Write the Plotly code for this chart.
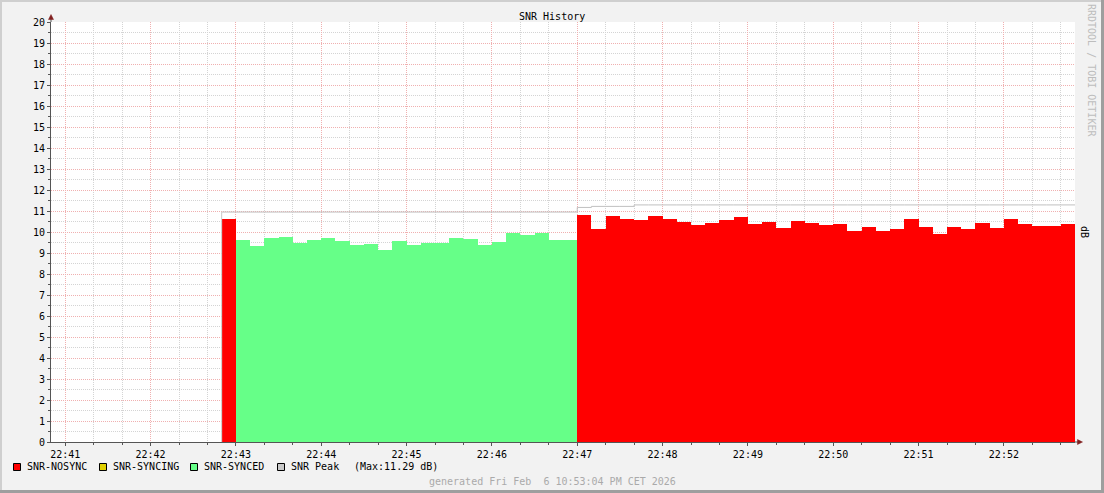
import plotly.graph_objects as go
import pandas as pd

# ---------------- data ----------------
SLOT_START = "2026-02-06 22:42:50"   # first sample slot
STEP_SECONDS = 10
X_START = "2026-02-06 22:40:50"
X_END = "2026-02-06 22:52:50"
TICK0 = "2026-02-06 22:41:00"

snr_nosync = [10.62] + [None] * 24 + [
    10.81, 10.14, 10.76, 10.62, 10.57, 10.76, 10.62, 10.48, 10.33, 10.43,
    10.57, 10.71, 10.38, 10.48, 10.19, 10.52, 10.43, 10.33, 10.38, 10.05,
    10.24, 10.05, 10.14, 10.62, 10.24, 9.90, 10.24, 10.14, 10.43, 10.19,
    10.62, 10.38, 10.29, 10.29, 10.38]
snr_synced = [None] + [
    9.62, 9.35, 9.71, 9.76, 9.48, 9.62, 9.71, 9.57, 9.38, 9.43, 9.14, 9.57,
    9.38, 9.48, 9.48, 9.71, 9.67, 9.38, 9.52, 9.95, 9.86, 9.95, 9.62, 9.62] + [None] * 35
snr_syncing = [None] * 60
snr_peak = [10.95] * 25 + [11.17] + [11.22] * 3 + [11.29] * 31
peak_max_label = "(Max:11.29 dB)"

legend_names = ["SNR-NOSYNC", "SNR-SYNCING", "SNR-SYNCED", "SNR Peak"]
legend_colors = ["#ff0000", "#e0d000", "#66ff88", "#c8c8c8"]

# ---------------- geometry helpers ----------------
W, H = 1104, 493
PL, PR, PT, PB = 51, 1075, 22, 442
PW, PH = PR - PL, PB - PT


def fx(px):
    return (px - PL) / PW


def fy(py):
    return (PB - py) / PH


FONT = "DejaVu Sans Mono"
slots = pd.date_range(SLOT_START, periods=len(snr_peak), freq=f"{STEP_SECONDS}s")
step_ms = STEP_SECONDS * 1000

fig = go.Figure()
fig.add_trace(go.Bar(x=slots, y=snr_nosync, name=legend_names[0], marker_color=legend_colors[0],
                     marker_line_width=0, width=step_ms, offset=0, showlegend=False))
fig.add_trace(go.Bar(x=slots, y=snr_syncing, name=legend_names[1], marker_color=legend_colors[1],
                     marker_line_width=0, width=step_ms, offset=0, showlegend=False))
fig.add_trace(go.Bar(x=slots, y=snr_synced, name=legend_names[2], marker_color=legend_colors[2],
                     marker_line_width=0, width=step_ms, offset=0, showlegend=False))
peak_x = list(slots) + [slots[-1] + pd.Timedelta(seconds=STEP_SECONDS)]
peak_y = snr_peak + [snr_peak[-1]]
fig.add_trace(go.Scatter(x=peak_x, y=peak_y, mode="lines", line=dict(color="#c0c0c0", width=1, shape="hv"),
                         name=legend_names[3], showlegend=False))

MAJ = "#f0b0b0"
MIN = "#d4d4d4"
fig.update_layout(
    width=W, height=H, autosize=False,
    margin=dict(l=PL, r=W - PR, t=PT, b=H - PB, pad=0),
    paper_bgcolor="#f2f2f2", plot_bgcolor="#ffffff",
    barmode="overlay", bargap=0,
    font=dict(family=FONT, size=10, color="#000000"),
    showlegend=False,
    xaxis=dict(type="date", range=[X_START, X_END], tick0=TICK0, dtick=60000, tickformat="%H:%M",
               showgrid=True, gridcolor=MAJ, griddash="1px,1px", gridwidth=1,
               showline=True, linecolor="#555555", linewidth=1, zeroline=False,
               ticks="outside", ticklen=3, tickcolor="#555555",
               minor=dict(dtick=20000, tick0=TICK0, showgrid=True, gridcolor=MIN, griddash="1px,1px",
                          ticks="outside", ticklen=2, tickcolor="#555555"),
               tickfont=dict(family=FONT, size=10)),
    yaxis=dict(range=[0, 20], dtick=1, tick0=0, showgrid=True, gridcolor=MAJ, griddash="1px,1px",
               showline=True, linecolor="#555555", linewidth=1, zeroline=False,
               ticks="outside", ticklen=3, tickcolor="#555555",
               minor=dict(dtick=0.5, showgrid=True, gridcolor=MIN, griddash="1px,1px",
                          ticks="outside", ticklen=2, tickcolor="#555555"),
               tickfont=dict(family=FONT, size=10)),
)

shapes = []
# rising edge of the peak line where data begins
shapes.append(dict(type="line", xref="x", yref="y", x0=slots[0], x1=slots[0], y0=0, y1=snr_peak[0],
                   line=dict(color="#c8c8c8", width=1)))
# frame of the whole image
shapes.append(dict(type="rect", xref="paper", yref="paper", x0=fx(0), x1=fx(W), y0=fy(0), y1=fy(2),
                   fillcolor="#cfcfcf", line_width=0, layer="above"))
shapes.append(dict(type="rect", xref="paper", yref="paper", x0=fx(0), x1=fx(2), y0=fy(0), y1=fy(H),
                   fillcolor="#cfcfcf", line_width=0, layer="above"))
shapes.append(dict(type="rect", xref="paper", yref="paper", x0=fx(0), x1=fx(W), y0=fy(H - 3), y1=fy(H),
                   fillcolor="#9e9e9e", line_width=0, layer="above"))
shapes.append(dict(type="rect", xref="paper", yref="paper", x0=fx(W - 3), x1=fx(W), y0=fy(0), y1=fy(H),
                   fillcolor="#9e9e9e", line_width=0, layer="above"))
# axis extensions and arrows
shapes.append(dict(type="line", xref="paper", yref="paper", x0=fx(51), x1=fx(51), y0=fy(PT), y1=fy(18),
                   line=dict(color="#555555", width=1)))
shapes.append(dict(type="line", xref="paper", yref="paper", x0=fx(PR), x1=fx(1079), y0=fy(442), y1=fy(442),
                   line=dict(color="#555555", width=1)))
shapes.append(dict(type="path", xref="paper", yref="paper",
                   path=f"M {fx(51)} {fy(14.5)} L {fx(48.5)} {fy(19.5)} L {fx(53.5)} {fy(19.5)} Z",
                   fillcolor="#801f1f", line=dict(color="#801f1f", width=0.5)))
shapes.append(dict(type="path", xref="paper", yref="paper",
                   path=f"M {fx(1082.5)} {fy(442)} L {fx(1077.5)} {fy(439.5)} L {fx(1077.5)} {fy(444.5)} Z",
                   fillcolor="#801f1f", line=dict(color="#801f1f", width=0.5)))

annotations = []
annotations.append(dict(text="SNR History", x=fx(552), y=fy(16), xref="paper", yref="paper",
                        showarrow=False, xanchor="center", yanchor="middle", font=dict(size=10)))
annotations.append(dict(text="RRDTOOL / TOBI OETIKER", x=fx(1092), y=fy(70), xref="paper", yref="paper",
                        showarrow=False, xanchor="center", yanchor="middle", textangle=90,
                        font=dict(size=10, color="#bdbdbd")))
annotations.append(dict(text="dB", x=fx(1085), y=fy(232), xref="paper", yref="paper",
                        showarrow=False, xanchor="center", yanchor="middle", textangle=90,
                        font=dict(size=10, color="#000000")))

# legend
box_x = [13.5, 99.5, 190.5, 277.5]
text_x = [25, 111, 201.5, 289]
for name, col, bx, tx in zip(legend_names, legend_colors, box_x, text_x):
    shapes.append(dict(type="rect", xref="paper", yref="paper", x0=fx(bx), x1=fx(bx + 7),
                       y0=fy(463.5), y1=fy(470.5), fillcolor=col, line=dict(color="#000000", width=1)))
    annotations.append(dict(text=name, x=fx(tx), y=fy(466.5), xref="paper", yref="paper",
                            showarrow=False, xanchor="left", yanchor="middle", font=dict(size=10)))
annotations.append(dict(text=peak_max_label, x=fx(351.5), y=fy(466.5), xref="paper", yref="paper",
                        showarrow=False, xanchor="left", yanchor="middle", font=dict(size=10)))
annotations.append(dict(text="generated Fri Feb\u00a0\u00a06 10:53:04 PM CET 2026", x=fx(552), y=fy(481),
                        xref="paper", yref="paper", showarrow=False, xanchor="center", yanchor="middle",
                        font=dict(size=10, color="#aaaaaa")))

fig.update_layout(shapes=shapes, annotations=annotations)
fig.write_html("out.html", config={"displayModeBar": False},
               post_script="document.body.style.margin='0';document.body.style.overflow='hidden';")
